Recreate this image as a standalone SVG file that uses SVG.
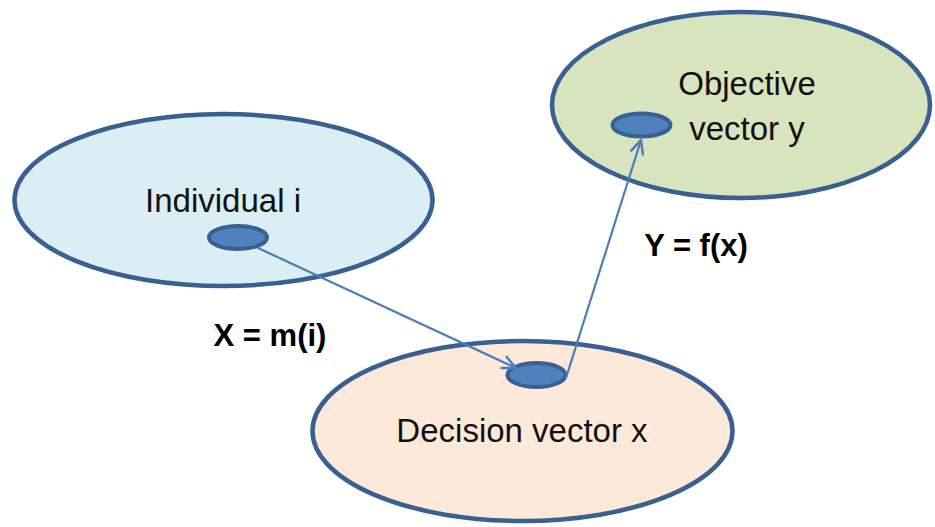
<svg xmlns="http://www.w3.org/2000/svg" width="935" height="527" viewBox="0 0 935 527">
<style>
.big{stroke:#3A5F91;stroke-width:4.5}
.dot{fill:#4F81BD;stroke:#3A5F91;stroke-width:4}
.lbl{font-family:"Liberation Sans",Arial,sans-serif;font-size:33px;fill:#111;text-anchor:middle}
.eq{font-family:"Liberation Sans",Arial,sans-serif;font-size:31px;font-weight:bold;fill:#000;text-anchor:middle}
.conn{stroke:#4A7EBB;stroke-width:2.2;fill:none;marker-end:url(#arr)}
</style>
<defs>
<marker id="arr" viewBox="0 0 16 16" refX="15" refY="8" markerWidth="16" markerHeight="16" markerUnits="userSpaceOnUse" orient="auto">
<path d="M1,1.5 L15,8 L1,14.5" fill="none" stroke="#4A7EBB" stroke-width="2.4"/>
</marker>
</defs>
<rect width="935" height="527" fill="#fff"/>
<g id="individual">
<ellipse cx="223.5" cy="200" rx="209" ry="86" fill="#DAEEF3" class="big"/>
<text x="223" y="212" class="lbl">Individual i</text>
<ellipse cx="238" cy="237.5" rx="29" ry="11.5" class="dot"/>
</g>
<g id="objective">
<ellipse cx="741" cy="105" rx="189" ry="93" fill="#D7E4BD" class="big"/>
<text x="747" y="95" class="lbl">Objective</text>
<text x="747" y="140" class="lbl">vector y</text>
<ellipse cx="641.5" cy="125" rx="29" ry="11.5" class="dot"/>
</g>
<g id="decision">
<ellipse cx="522.5" cy="431" rx="210" ry="90" fill="#FDE9D9" class="big"/>
<text x="522" y="442" class="lbl">Decision vector x</text>
<ellipse cx="536.5" cy="375" rx="29" ry="12" class="dot"/>
</g>
<g id="connectors">
<line x1="258" y1="248" x2="516" y2="368" class="conn"/>
<line x1="566" y1="378" x2="641" y2="140" class="conn"/>
</g>
<g id="labels">
<text x="270" y="346" class="eq">X = m(i)</text>
<text x="696" y="256" class="eq">Y = f(x)</text>
</g>
</svg>
